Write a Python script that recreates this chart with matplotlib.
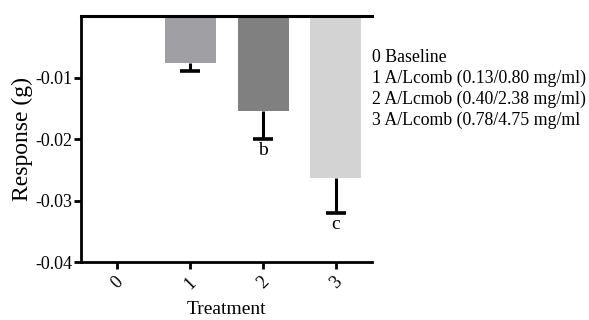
import numpy as np
import matplotlib
matplotlib.use("Agg")
import matplotlib.pyplot as plt

plt.rcParams['font.family'] = ['Liberation Serif', 'DejaVu Serif']

# data
treatments = ['0', '1', '2', '3']
means = [0.0, -0.0077, -0.0155, -0.0263]
err_low = [0.0, 0.0013, 0.0045, 0.0057]
bar_colors = ['#b0b0b4', '#a0a0a4', '#808080', '#d3d3d3']
letters = ['', '', 'b', 'c']
legend_lines = ['0 Baseline',
                '1 A/Lcomb (0.13/0.80 mg/ml)',
                '2 A/Lcmob (0.40/2.38 mg/ml)',
                '3 A/Lcomb (0.78/4.75 mg/ml']

fig = plt.figure(figsize=(5.89, 3.2), dpi=100)
ax = fig.add_axes([0.1375, 0.181, 0.632 - 0.1375, 0.95 - 0.181])

x = np.arange(len(treatments))
ax.bar(x, means, width=0.7, color=bar_colors, zorder=2)

# one-sided (downward) error bars, cap only at the lower end
for xi, m, e, lab in zip(x, means, err_low, letters):
    if e > 0:
        ax.vlines(xi, m - e, m, color='black', linewidth=2.2, zorder=3)
        ax.plot([xi], [m - e], marker='_', markersize=15, mew=2.6,
                color='black', zorder=3)
    if lab:
        ax.text(xi, m - e - 0.0005, lab, ha='center', va='top', fontsize=14)

ax.axhline(0, color='black', linewidth=2.2, zorder=4, clip_on=False)

ax.set_xlim(-0.5, 3.5)
ax.set_ylim(-0.04, 0)
ax.set_yticks([-0.04, -0.03, -0.02, -0.01])
ax.set_yticklabels(['-0.04', '-0.03', '-0.02', '-0.01'])
ax.set_xticks(x)
ax.set_xticklabels(treatments, rotation=45, ha='center')

for s in ['top', 'right']:
    ax.spines[s].set_visible(False)
for s in ['left', 'bottom']:
    ax.spines[s].set_linewidth(2)
ax.tick_params(axis='both', width=2, length=5, labelsize=13)
ax.tick_params(axis='y', pad=1)

ax.set_ylabel('Response (g)', fontsize=17, labelpad=2)
ax.set_xlabel('Treatment', fontsize=14, labelpad=6)

for i, line in enumerate(legend_lines):
    fig.text(0.632, 1 - (58 + i * 20.7) / 320, line, fontsize=12.8,
             va='center', ha='left')

fig.savefig('out.png', dpi=100)
